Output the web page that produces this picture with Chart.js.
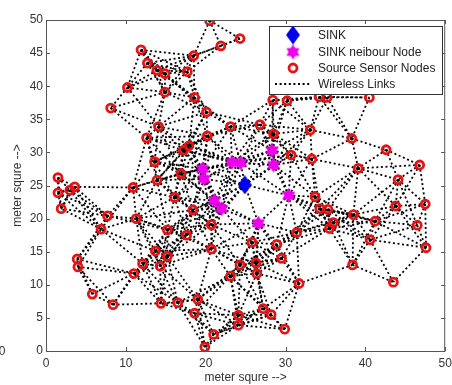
<!doctype html>
<html lang="en">
<head>
<meta charset="utf-8">
<title>Sensor network</title>
<style>
  * { margin: 0; padding: 0; }
  body { background: #fff; }
  #box { width: 452px; height: 385px; }
</style>
</head>
<body>
<div id="box"><canvas id="myChart" width="452" height="385"></canvas></div>
<script src="https://cdn.jsdelivr.net/npm/chart.js/dist/chart.umd.min.js"></script>
<script>
// node positions (meter)
const sinkX = [24.9];
const sinkY = [25.1];

const neighbourX = [28.3, 28.5, 23.3, 24.4, 19.6, 19.8, 30.4, 26.6, 21.1, 22.0];
const neighbourY = [30.3, 28.1, 28.5, 28.4, 27.5, 26.0, 23.5, 19.3, 22.7, 21.5];

const sourceX = [20.5, 21.9, 24.3, 11.9, 18.5, 12.7, 13.9, 14.9, 17.7, 10.2, 14.9, 18.6, 8.1, 20.1, 14.1,
  23.1, 12.6, 20.2, 17.9, 17.2, 13.6, 16.9, 13.9, 1.5, 1.5, 3.0, 3.6, 10.9, 16.1,
  28.4, 30.2, 34.2, 35.2, 40.5, 26.8, 28.5, 33.1, 38.3, 42.6, 46.8, 39.1, 44.1, 30.7, 33.3,
  33.7, 34.3, 35.3, 36.0, 35.5, 38.5, 41.2, 43.8, 47.5, 46.5, 40.6, 47.6, 38.4, 43.5, 31.4,
  25.8, 28.9, 29.5, 26.3, 26.4, 31.7, 24.3, 23.1, 27.2, 28.2, 29.9, 24.1, 24.1, 21.0, 19.9,
  19.0, 18.6, 16.5, 14.4, 8.4, 5.8, 4.0, 3.9, 11.0, 12.1, 14.3, 15.2, 13.7, 20.7, 17.6,
  15.2, 20.7, 18.4, 11.3, 7.7, 6.9, 1.9];
const sourceY = [49.9, 46.1, 47.2, 45.5, 44.6, 43.5, 42.4, 41.9, 42.2, 39.8, 39.1, 38.3, 36.7, 36.1, 33.9,
  33.9, 32.2, 32.5, 31.0, 30.3, 28.6, 26.8, 25.8, 26.2, 23.9, 24.3, 24.8, 24.7, 23.2,
  37.9, 37.8, 38.4, 38.3, 38.3, 34.2, 32.8, 33.4, 32.1, 30.4, 28.1, 27.6, 25.9, 29.6, 29.0,
  23.3, 21.5, 21.4, 19.4, 18.5, 20.6, 19.6, 21.9, 22.2, 19.0, 16.8, 15.6, 13.0, 10.4, 17.9,
  16.4, 16.1, 14.0, 13.3, 11.7, 10.2, 13.0, 11.3, 6.4, 5.5, 3.3, 5.4, 3.9, 2.5, 0.6,
  7.8, 5.7, 7.3, 7.2, 7.0, 8.6, 12.7, 13.9, 11.7, 13.2, 12.8, 14.3, 15.1, 15.4, 17.5,
  18.3, 19.1, 21.3, 20.0, 20.4, 18.4, 21.5];

const xTicks = [0, 10, 20, 30, 40, 50];
const yTicks = [0, 5, 10, 15, 20, 25, 30, 35, 40, 45, 50];
const legendLabels = ['SINK', 'SINK neibour Node', 'Source Sensor Nodes', 'Wireless Links'];
const axisTitle = 'meter squre -->';

// radio range: two nodes closer than this share a wireless link
const linkRange = 7.8;

const FONT = 'Liberation Sans, Arial, sans-serif';

const toPoints = (xs, ys) => xs.map((x, i) => ({ x: x, y: ys[i] }));

const allNodes = [].concat(toPoints(sinkX, sinkY), toPoints(neighbourX, neighbourY), toPoints(sourceX, sourceY));
const links = [];
for (let i = 0; i < allNodes.length; i++) {
  for (let j = i + 1; j < allNodes.length; j++) {
    const dx = allNodes[i].x - allNodes[j].x, dy = allNodes[i].y - allNodes[j].y;
    if (Math.sqrt(dx * dx + dy * dy) <= linkRange) links.push([allNodes[i], allNodes[j]]);
  }
}

// marker images
function diamond(w, h, color) {
  const c = document.createElement('canvas');
  c.width = w; c.height = h;
  const g = c.getContext('2d');
  g.fillStyle = color;
  g.beginPath();
  g.moveTo(w / 2, 0); g.lineTo(w, h / 2); g.lineTo(w / 2, h); g.lineTo(0, h / 2);
  g.closePath(); g.fill();
  return c;
}
function hexagram(r, color) {
  const s = Math.ceil(r * 2 + 2);
  const c = document.createElement('canvas');
  c.width = s; c.height = s;
  const g = c.getContext('2d');
  g.fillStyle = color;
  g.beginPath();
  for (let k = 0; k < 12; k++) {
    const a = -Math.PI / 2 + k * Math.PI / 6;
    const rr = k % 2 ? r * 0.6 : r;
    g.lineTo(s / 2 + rr * Math.cos(a), s / 2 + rr * Math.sin(a));
  }
  g.closePath(); g.fill();
  return c;
}
const sinkImg = diamond(14, 19, '#0000ee');
const starImg = hexagram(7.5, '#ee00ee');
const RED = 'rgb(232,18,18)';

const linkPlugin = {
  id: 'links',
  beforeDatasetsDraw(chart) {
    const { ctx, scales: { x, y } } = chart;
    ctx.save();
    ctx.strokeStyle = '#000';
    ctx.lineWidth = 1.8;
    ctx.setLineDash([2, 2.6]);
    links.forEach(([a, b]) => {
      ctx.beginPath();
      ctx.moveTo(x.getPixelForValue(a.x), y.getPixelForValue(a.y));
      ctx.lineTo(x.getPixelForValue(b.x), y.getPixelForValue(b.y));
      ctx.stroke();
    });
    ctx.restore();
  }
};

// matlab style box with inward ticks
const boxPlugin = {
  id: 'box',
  afterDatasetsDraw(chart) {
    const { ctx, chartArea: a, scales: { x, y } } = chart;
    ctx.save();
    ctx.strokeStyle = '#555';
    ctx.lineWidth = 1;
    ctx.strokeRect(a.left + 0.5, a.top + 0.5, a.right - a.left - 1, a.bottom - a.top);
    ctx.beginPath();
    xTicks.forEach(v => {
      const px = Math.round(x.getPixelForValue(v)) + 0.5;
      ctx.moveTo(px, a.bottom); ctx.lineTo(px, a.bottom - 4);
      ctx.moveTo(px, a.top); ctx.lineTo(px, a.top + 4);
    });
    yTicks.forEach(v => {
      const py = Math.round(y.getPixelForValue(v)) + 0.5;
      ctx.moveTo(a.left, py); ctx.lineTo(a.left + 4, py);
      ctx.moveTo(a.right, py); ctx.lineTo(a.right - 4, py);
    });
    ctx.stroke();
    // stray label left over from the neighbouring figure
    ctx.fillStyle = '#333';
    ctx.font = '12px ' + FONT;
    ctx.textAlign = 'center';
    ctx.textBaseline = 'middle';
    ctx.fillText('0', 2, 352);
    ctx.restore();
  }
};

const legendPlugin = {
  id: 'legendBox',
  afterDraw(chart) {
    const ctx = chart.ctx;
    ctx.save();
    ctx.fillStyle = '#fff';
    ctx.fillRect(269, 26, 173, 68);
    ctx.strokeStyle = '#333';
    ctx.lineWidth = 1;
    ctx.strokeRect(269.5, 26.5, 173, 68);
    const rows = [35, 52, 68, 84];
    ctx.drawImage(sinkImg, 293 - sinkImg.width / 2, rows[0] - sinkImg.height / 2);
    ctx.drawImage(starImg, 293 - starImg.width / 2, rows[1] - starImg.height / 2);
    ctx.beginPath();
    ctx.arc(293, rows[2], 4, 0, Math.PI * 2);
    ctx.strokeStyle = RED;
    ctx.lineWidth = 2.8;
    ctx.stroke();
    ctx.beginPath();
    ctx.strokeStyle = '#000';
    ctx.lineWidth = 1.8;
    ctx.setLineDash([2, 2.6]);
    ctx.moveTo(275, rows[3]); ctx.lineTo(311, rows[3]);
    ctx.stroke();
    ctx.setLineDash([]);
    ctx.fillStyle = '#222';
    ctx.font = '12px ' + FONT;
    ctx.textBaseline = 'middle';
    legendLabels.forEach((t, i) => ctx.fillText(t, 318, rows[i] + 0.5));
    ctx.restore();
  }
};

const data = {
  datasets: [
    {
      label: legendLabels[0],
      data: toPoints(sinkX, sinkY),
      pointStyle: sinkImg,
      order: 0
    },
    {
      label: legendLabels[1],
      data: toPoints(neighbourX, neighbourY),
      pointStyle: starImg,
      order: 1
    },
    {
      label: legendLabels[2],
      data: toPoints(sourceX, sourceY),
      pointStyle: 'circle',
      pointRadius: 4,
      borderWidth: 2.8,
      borderColor: RED,
      backgroundColor: 'rgba(0,0,0,0)',
      order: 2
    }
  ]
};

const config = {
  type: 'scatter',
  data: data,
  options: {
    responsive: false,
    animation: false,
    events: [],
    layout: { padding: { top: 20, right: 1, bottom: 0, left: 0 } },
    scales: {
      x: {
        min: 0,
        max: 50,
        afterBuildTicks: s => { s.ticks = xTicks.map(v => ({ value: v })); },
        afterFit: s => { s.height = 34; s.paddingLeft = 0; s.paddingRight = 0; },
        grid: { display: false, drawTicks: false },
        border: { display: false },
        ticks: { padding: 5, color: '#333', font: { family: FONT, size: 12 }, maxRotation: 0, autoSkip: false },
        title: { display: true, text: axisTitle, color: '#333', font: { family: FONT, size: 12 }, padding: { top: 0, bottom: 0 } }
      },
      y: {
        min: 0,
        max: 50,
        afterBuildTicks: s => { s.ticks = yTicks.map(v => ({ value: v })); },
        afterFit: s => { s.width = 46; s.paddingTop = 0; s.paddingBottom = 0; },
        grid: { display: false, drawTicks: false },
        border: { display: false },
        ticks: { padding: 3, color: '#333', font: { family: FONT, size: 12 }, autoSkip: false },
        title: { display: true, text: axisTitle, color: '#333', font: { family: FONT, size: 12 }, padding: { top: 10, bottom: 0 } }
      }
    },
    plugins: {
      legend: { display: false },
      tooltip: { enabled: false }
    }
  },
  plugins: [linkPlugin, boxPlugin, legendPlugin]
};

const myChart = new Chart(document.getElementById('myChart'), config);
</script>
</body>
</html>
